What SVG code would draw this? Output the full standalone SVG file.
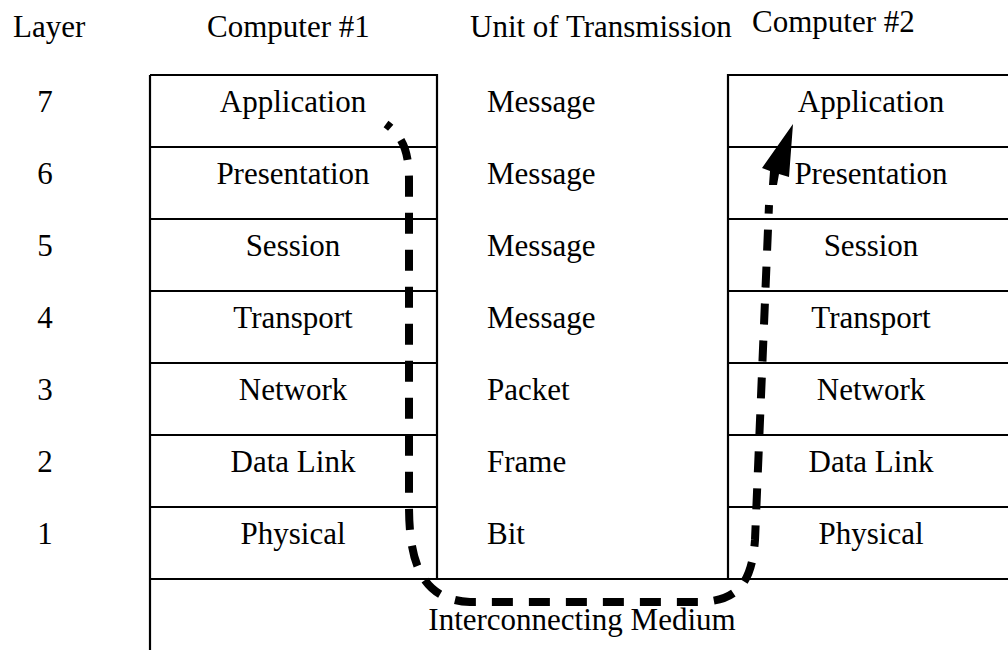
<svg xmlns="http://www.w3.org/2000/svg" width="1008" height="650" viewBox="0 0 1008 650">
<style>
text{font-family:"Liberation Serif","Times New Roman",serif;font-size:31px;fill:#000}
.c{text-anchor:middle}
.ln{stroke:#000;stroke-width:2.2;fill:none}
.flow{stroke:#000;stroke-width:8;fill:none;stroke-dasharray:21 16;stroke-dashoffset:15}
</style>
<rect width="1008" height="650" fill="#fff"/>
<g id="headers">
<text x="13" y="37">Layer</text>
<text x="207" y="37">Computer #1</text>
<text x="470" y="37">Unit of Transmission</text>
<text x="752" y="32">Computer #2</text>
</g>
<g id="layer-numbers" class="c">
<text class="c" x="45" y="112">7</text>
<text class="c" x="45" y="184">6</text>
<text class="c" x="45" y="256">5</text>
<text class="c" x="45" y="328">4</text>
<text class="c" x="45" y="400">3</text>
<text class="c" x="45" y="472">2</text>
<text class="c" x="45" y="544">1</text>
</g>
<g id="computer1">
<path class="ln" d="M150,75H437V579M150,75V650M150,147H437M150,219H437M150,291H437M150,363H437M150,435H437M150,507H437"/>
<text class="c" x="293" y="112">Application</text>
<text class="c" x="293" y="184">Presentation</text>
<text class="c" x="293" y="256">Session</text>
<text class="c" x="293" y="328">Transport</text>
<text class="c" x="293" y="400">Network</text>
<text class="c" x="293" y="472">Data Link</text>
<text class="c" x="293" y="544">Physical</text>
</g>
<g id="units">
<text x="487" y="112">Message</text>
<text x="487" y="184">Message</text>
<text x="487" y="256">Message</text>
<text x="487" y="328">Message</text>
<text x="487" y="400">Packet</text>
<text x="487" y="472">Frame</text>
<text x="487" y="544">Bit</text>
</g>
<g id="computer2">
<path class="ln" d="M1008,75H728V579M728,147H1008M728,219H1008M728,291H1008M728,363H1008M728,435H1008M728,507H1008"/>
<text class="c" x="871" y="112">Application</text>
<text class="c" x="871" y="184">Presentation</text>
<text class="c" x="871" y="256">Session</text>
<text class="c" x="871" y="328">Transport</text>
<text class="c" x="871" y="400">Network</text>
<text class="c" x="871" y="472">Data Link</text>
<text class="c" x="871" y="544">Physical</text>
</g>
<g id="medium">
<path class="ln" d="M150,579H1008"/>
<text class="c" x="582" y="630">Interconnecting Medium</text>
</g>
<g id="connectors">
<path class="flow" d="M386,124 C402,136 409,150 409,180 L409,505 C409,560 420,600 470,602 L700,602 C740,601 752,580 755,540 L769,205"/>
<polygon points="793,124 762,168 770,171 769,185 777,185 779,174 789,177" fill="#000"/>
</g>
</svg>
